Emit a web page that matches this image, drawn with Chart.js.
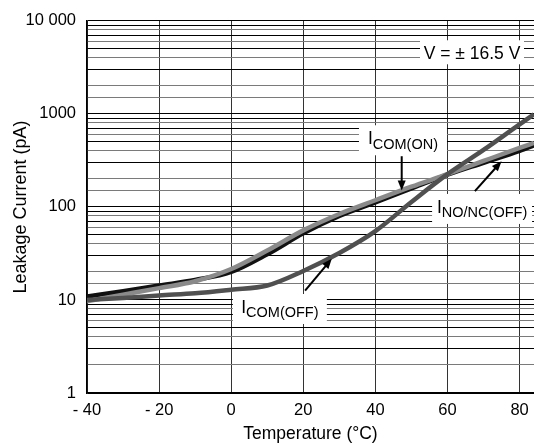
<!DOCTYPE html>
<html>
<head>
<meta charset="utf-8">
<script src="https://cdn.jsdelivr.net/npm/chart.js@4.4.1/dist/chart.umd.min.js"></script>
<style>
  html, body { margin: 0; padding: 0; background: #fff; }
  #wrap { width: 534px; height: 445px; }
</style>
</head>
<body>
<div id="wrap"><canvas id="leakChart" width="534" height="445"></canvas></div>
<script>
// temperature points (°C)
const temps = [-40, -30, -20, -10, 0, 10, 20, 30, 40, 50, 60, 70, 80, 84];

// leakage currents (pA)
const comOn   = [10.9, 12.4, 14.3, 16.4, 20, 31, 52, 80, 112, 158, 222, 298, 400, 460];
const noNcOff = [9.7, 11.4, 13.4, 15.9, 21.5, 34, 56, 84, 118, 165, 225, 312, 431, 488];
const comOff  = [10.0, 10.5, 11.2, 11.8, 12.9, 14.3, 20.5, 32, 55, 113, 225, 410, 772, 990];

const xTickValues = [-40, -20, 0, 20, 40, 60, 80];
const xTickLabels = ['- 40', '- 20', '0', '20', '40', '60', '80'];
const yTickValues = [1, 10, 100, 1000, 10000];
const yTickLabels = ['1', '10', '100', '1000', '10 000'];

const FONT = '"Liberation Sans", Arial, Helvetica, sans-serif';

// callouts, placed in data units
const notes = [
  { x: 66.8, y: 4600, w: 104, h: 24, main: 'V = ± 16.5 V', sub: '', base: 6.3 },
  { x: 47.65, y: 521, w: 88, h: 30, main: 'I', sub: 'COM(ON)', base: 4 },
  { x: 69.6, y: 95.2, w: 100, h: 30, main: 'I', sub: 'NO/NC(OFF)', base: 4 },
  { x: 13.5, y: 8.0, w: 94, h: 30, main: 'I', sub: 'COM(OFF)', base: 4 }
];
const arrows = [
  { from: [47.3, 351], to: [47.3, 150] },
  { from: [67.6, 148], to: [75.0, 310] },
  { from: [20.5, 12.6], to: [27.9, 27.8] }
];

const notesPlugin = {
  id: 'notes',
  afterDatasetsDraw(chart) {
    const { ctx, scales: { x, y } } = chart;
    ctx.save();
    notes.forEach(n => {
      const cx = x.getPixelForValue(n.x);
      const cy = y.getPixelForValue(n.y);
      ctx.fillStyle = '#fff';
      ctx.fillRect(cx - n.w / 2, cy - n.h / 2, n.w, n.h);
      ctx.fillStyle = '#000';
      ctx.textBaseline = 'alphabetic';
      ctx.textAlign = 'left';
      const mainFont = '17.5px ' + FONT;
      const subFont = '14.5px ' + FONT;
      ctx.font = mainFont;
      const mw = ctx.measureText(n.main).width;
      ctx.font = subFont;
      const sw = n.sub ? ctx.measureText(n.sub).width : 0;
      const left = cx - (mw + sw) / 2;
      ctx.font = mainFont;
      ctx.fillText(n.main, left, cy + n.base);
      if (n.sub) {
        ctx.font = subFont;
        ctx.fillText(n.sub, left + mw, cy + n.base + 4.5);
      }
    });
    ctx.strokeStyle = '#000';
    ctx.fillStyle = '#000';
    ctx.lineWidth = 2;
    arrows.forEach(a => {
      const x1 = x.getPixelForValue(a.from[0]), y1 = y.getPixelForValue(a.from[1]);
      const x2 = x.getPixelForValue(a.to[0]), y2 = y.getPixelForValue(a.to[1]);
      const ang = Math.atan2(y2 - y1, x2 - x1);
      const c = Math.cos(ang), s = Math.sin(ang);
      const head = 10, half = 4;
      ctx.beginPath();
      ctx.moveTo(x1, y1);
      ctx.lineTo(x2 - head * 0.7 * c, y2 - head * 0.7 * s);
      ctx.stroke();
      ctx.beginPath();
      ctx.moveTo(x2, y2);
      ctx.lineTo(x2 - head * c + half * s, y2 - head * s - half * c);
      ctx.lineTo(x2 - head * c - half * s, y2 - head * s + half * c);
      ctx.closePath();
      ctx.fill();
    });
    ctx.restore();
  }
};

function toPoints(vals) {
  return temps.map((t, i) => ({ x: t, y: vals[i] }));
}

function significand(v) {
  return Math.round(v / Math.pow(10, Math.floor(Math.log10(v) + 1e-9)));
}

const lineStyle = {
  borderWidth: 4.5,
  pointRadius: 0,
  fill: false,
  cubicInterpolationMode: 'monotone'
};

new Chart(document.getElementById('leakChart'), {
  type: 'line',
  data: {
    datasets: [
      { label: 'ICOM(OFF)', data: toPoints(comOff), borderColor: '#505050', order: 0, ...lineStyle },
      { label: 'INO/NC(OFF)', data: toPoints(noNcOff), borderColor: '#8a8a8a', order: 1, ...lineStyle },
      { label: 'ICOM(ON)', data: toPoints(comOn), borderColor: '#111111', order: 2, ...lineStyle }
    ]
  },
  options: {
    responsive: false,
    animation: false,
    devicePixelRatio: 1,
    layout: { padding: { top: 19, left: 10, right: 0, bottom: 0 } },
    plugins: { legend: { display: false }, tooltip: { enabled: false } },
    scales: {
      x: {
        type: 'linear',
        min: -40,
        max: 84,
        afterBuildTicks: scale => { scale.ticks = xTickValues.map(v => ({ value: v })); },
        afterFit: scale => {
          scale.height = 52;
          scale.paddingRight = 0;
          scale.paddingLeft = 0;
        },
        ticks: {
          autoSkip: false,
          maxRotation: 0,
          padding: 8,
          color: '#000',
          font: { family: FONT, size: 16.5 },
          callback: v => xTickLabels[xTickValues.indexOf(v)] ?? ''
        },
        grid: { color: '#333', lineWidth: 1, drawTicks: false },
        border: { display: true, color: '#000', width: 1.5 },
        title: {
          display: true,
          text: 'Temperature (°C)',
          color: '#000',
          padding: 0,
          font: { family: FONT, size: 17.5 }
        }
      },
      y: {
        type: 'logarithmic',
        min: 1,
        max: 10000,
        afterFit: scale => { scale.width = 77; },
        ticks: {
          autoSkip: false,
          padding: 11,
          color: '#000',
          font: { family: FONT, size: 16.5 },
          callback: v => yTickLabels[yTickValues.indexOf(v)] ?? ''
        },
        grid: {
          drawTicks: false,
          lineWidth: 1,
          color: ctx => {
            const v = ctx.tick && ctx.tick.value;
            if (!v) return '#000';
            const sig = significand(v);
            if (sig === 1) return '#000';
            return sig % 2 === 0 ? '#7a7a7a' : '#000';
          }
        },
        border: { display: true, color: '#000', width: 1.5 },
        title: {
          display: true,
          text: 'Leakage Current (pA)',
          color: '#000',
          padding: 0,
          font: { family: FONT, size: 18 }
        }
      }
    }
  },
  plugins: [notesPlugin]
});
</script>
</body>
</html>
